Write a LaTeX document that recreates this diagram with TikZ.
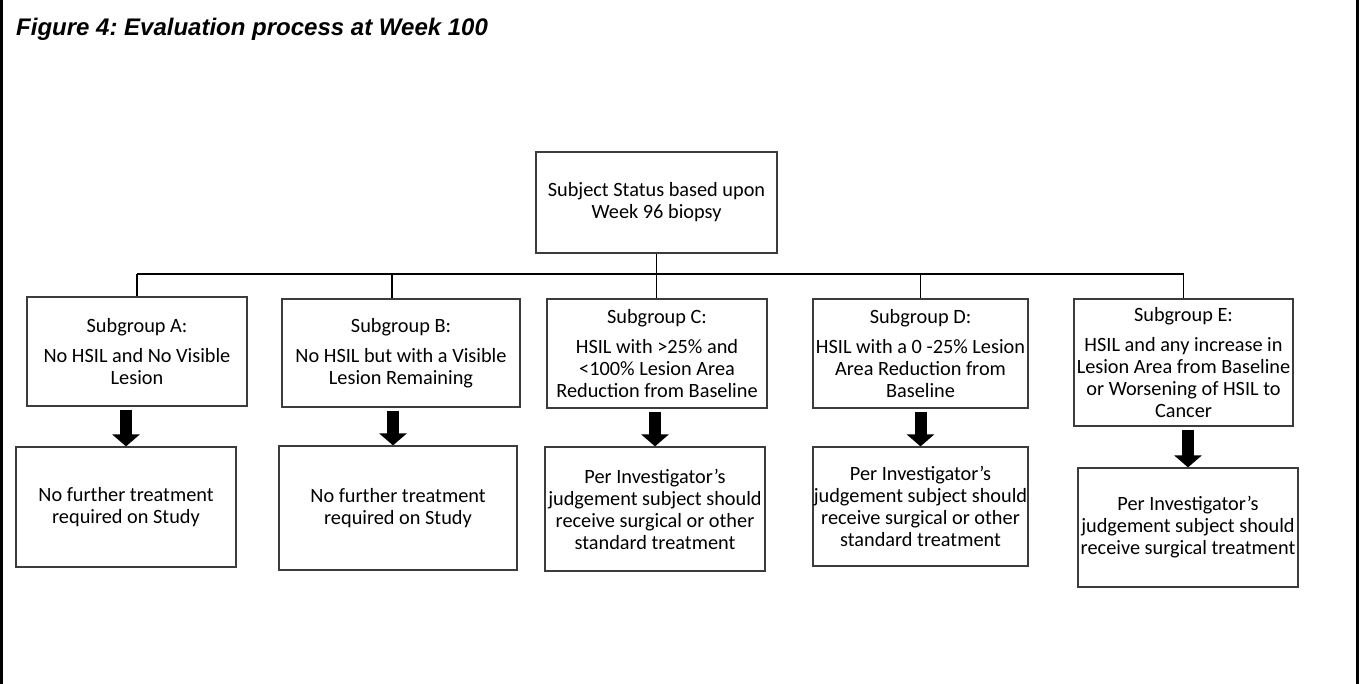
\documentclass[tikz,border=0pt]{standalone}
\usepackage{fontspec}
\setmainfont{Carlito}
\newfontfamily\titlefont{Liberation Sans}
\usetikzlibrary{arrows.meta}
\frenchspacing

\definecolor{boxgray}{HTML}{3C3C3C}

\tikzset{
  box/.style={draw=boxgray, line width=1.2pt, align=center, inner sep=0pt,
    font=\fontsize{20.3}{22}\selectfont},
  link/.style={draw=black, line width=1.3pt},
  blockarrow/.style={line width=12pt, -{Triangle[width=27pt,length=12pt]}},
  frameline/.style={line width=3pt}
}

\begin{document}
\begin{tikzpicture}[x=1pt,y=-1pt]
  \useasboundingbox (0,0) rectangle (1363,684);

  % page frame (side rules)
  \draw[frameline] (1.5,0) -- (1.5,684);
  \draw[frameline] (1357.5,0) -- (1357.5,684);

  % caption
  \node[anchor=base west, inner sep=0pt] (title) at (16,36)
    {\titlefont\bfseries\itshape\fontsize{24}{28}\selectfont Figure 4: Evaluation process at Week 100};

  % root
  \node[box, minimum width=241pt, minimum height=101pt] (top) at (656.5,202.5)
    {Subject Status based upon\\Week 96 biopsy};

  % subgroups
  \node[box, minimum width=220pt, minimum height=109pt] (A) at (137,351.5)
    {Subgroup A:\\[8pt]No HSIL and No Visible\\Lesion};
  \node[box, minimum width=238pt, minimum height=108pt] (B) at (401,353)
    {Subgroup B:\\[8pt]No HSIL but with a Visible\\Lesion Remaining};
  \node[box, minimum width=220pt, minimum height=109pt] (C) at (657,353.5)
    {Subgroup C:\\[8pt]HSIL with >25\% and\\<100\% Lesion Area\\Reduction from Baseline};
  \node[box, minimum width=215pt, minimum height=109pt] (D) at (920.5,353.5)
    {Subgroup D:\\[8pt]HSIL with a 0 -25\% Lesion\\Area Reduction from\\Baseline};
  \node[box, minimum width=219pt, minimum height=127pt] (E) at (1183.5,362.5)
    {Subgroup E:\\[8pt]HSIL and any increase in\\Lesion Area from Baseline\\or Worsening of HSIL to\\Cancer};

  % outcomes
  \node[box, minimum width=220pt, minimum height=120pt] (A2) at (126,507)
    {No further treatment\\required on Study};
  \node[box, minimum width=238pt, minimum height=124pt] (B2) at (398,508)
    {No further treatment\\required on Study};
  \node[box, minimum width=220pt, minimum height=124pt] (C2) at (655,509)
    {Per Investigator’s\\judgement subject should\\receive surgical or other\\standard treatment};
  \node[box, minimum width=215pt, minimum height=119pt] (D2) at (920.5,506.5)
    {Per Investigator’s\\judgement subject should\\receive surgical or other\\standard treatment};
  \node[box, minimum width=220pt, minimum height=119pt] (E2) at (1188,527.5)
    {Per Investigator’s\\judgement subject should\\receive surgical treatment};

  % branching bus
  \coordinate (bus) at (656.5,274);
  \draw[link] (top.south) -- (top.south |- bus);
  \draw[link] (A.north |- bus) -- ([xshift=-9pt]B.north |- bus);
  \draw[link, line width=2pt] ([xshift=-9pt]B.north |- bus) -- (bus);
  \draw[link] (bus) -- (E.north |- bus);
  \draw[link] (A.north |- bus) -- (A.north);
  \draw[link] ([xshift=-9pt]B.north |- bus) -- ([xshift=-9pt]B.north);
  \draw[link] (bus) -- (C.north -| bus);
  \draw[link] (D.north |- bus) -- (D.north);
  \draw[link] (E.north |- bus) -- (E.north);

  % block arrows to outcomes
  \draw[blockarrow] ([yshift=-3pt]A.south -| A2.north) -- (A2.north);
  \draw[blockarrow] ([yshift=-3pt,xshift=-5pt]B.south -| B2.north) -- ([xshift=-5pt]B2.north);
  \draw[blockarrow] ([yshift=-3pt]C.south -| C2.north) -- (C2.north);
  \draw[blockarrow] ([yshift=-3pt]D.south -| D2.north) -- (D2.north);
  \draw[blockarrow] ([yshift=-3pt]E.south -| E2.north) -- (E2.north);
\end{tikzpicture}
\end{document}
